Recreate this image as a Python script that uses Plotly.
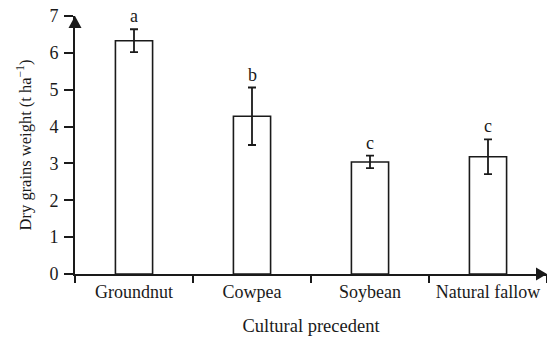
import plotly.graph_objects as go

categories = ["Groundnut", "Cowpea", "Soybean", "Natural fallow"]
means = [6.33, 4.28, 3.04, 3.18]
errors = [0.31, 0.78, 0.17, 0.47]
letters = ["a", "b", "c", "c"]
y_ticks = [0, 1, 2, 3, 4, 5, 6, 7]

FONT = "Liberation Serif, Times New Roman, serif"
INK = "#1a1a1a"

fig = go.Figure()
fig.add_trace(go.Bar(
    x=categories, y=means, width=0.315,
    marker=dict(color="white", line=dict(color=INK, width=1.6)),
    error_y=dict(type="data", array=errors, visible=True, color=INK, thickness=1.8, width=4),
    showlegend=False,
))

for c, m, e, l in zip(categories, means, errors, letters):
    fig.add_annotation(x=c, y=m + e, text=l, showarrow=False, yanchor="bottom", yshift=1,
                       font=dict(family=FONT, size=18, color=INK))

# arrow heads at the axis ends (paper refs so they are not clipped)
fig.add_shape(type="path", xref="paper", yref="paper", xsizemode="pixel", ysizemode="pixel",
              xanchor=1, yanchor=0, path="M 0 0 L -11 6.5 L -11 -6.5 Z",
              fillcolor=INK, line=dict(color=INK, width=0))
fig.add_shape(type="path", xref="paper", yref="paper", xsizemode="pixel", ysizemode="pixel",
              xanchor=0, yanchor=1, path="M 0 0 L -6.5 -12 L 6.5 -12 Z",
              fillcolor=INK, line=dict(color=INK, width=0))

fig.update_layout(
    width=547, height=337,
    margin=dict(l=75, r=0, t=16, b=63),
    paper_bgcolor="white", plot_bgcolor="white",
    font=dict(family=FONT, size=18, color=INK),
    xaxis=dict(type="category", range=[-0.5, 3.5], tickson="boundaries",
               showline=True, linecolor=INK, linewidth=2, ticks="outside", ticklen=7,
               tickwidth=2, tickcolor=INK, showgrid=False, zeroline=False,
               title=dict(text="Cultural precedent", standoff=18,
                          font=dict(family=FONT, size=18.5, color=INK)),
               tickfont=dict(family=FONT, size=18, color=INK)),
    yaxis=dict(range=[0, 7], tickvals=y_ticks, showline=True, linecolor=INK, linewidth=2,
               ticks="outside", ticklen=9, tickwidth=2, tickcolor=INK, showgrid=False,
               zeroline=False, ticklabelstandoff=2,
               title=dict(text="Dry grains weight (t ha<sup>−1</sup>)", standoff=14,
                          font=dict(family=FONT, size=16.5, color=INK)),
               tickfont=dict(family=FONT, size=18, color=INK)),
)

fig.write_html("out.html")
